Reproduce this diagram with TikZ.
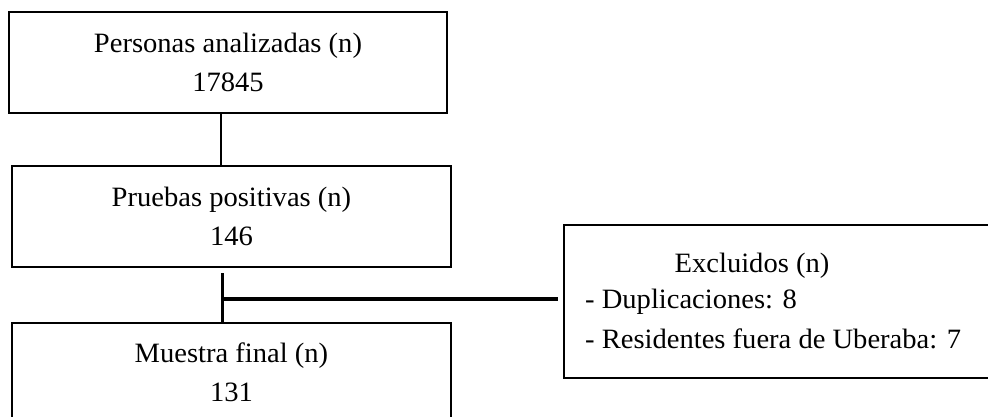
\documentclass[tikz,border=0pt]{standalone}
\usepackage{fontspec}
\setmainfont[FakeStretch=1.02]{Liberation Serif}
\begin{document}
\begin{tikzpicture}[x=1pt,y=-1pt,
  box/.style={draw=black,line width=2pt,rectangle,inner sep=0pt,align=center,
    font=\fontsize{28}{39}\selectfont},
  txt/.style={inner sep=0pt,font=\fontsize{28}{39}\selectfont},
  conn/.style={draw=black,line width=2.4pt}]
\useasboundingbox (0,0) rectangle (988,417);
\node[box,minimum width=438pt,minimum height=101pt] (b1) at (228,62.5)
  {Personas analizadas (n)\\17845};
\node[box,minimum width=439pt,minimum height=101pt] (b2) at (231.5,216.5)
  {Pruebas positivas (n)\\146};
\node[box,minimum width=439pt,minimum height=98pt] (b3) at (231.5,372)
  {Muestra final (n)\\131};
\node[box,minimum width=440pt,minimum height=153pt] (ex) at (784,301.5) {};
\node[txt,anchor=base] (exh) at (752,272) {Excluidos (n)};
\node[txt,anchor=base west] (ex1) at (585,308) {- Duplicaciones: 8};
\node[txt,anchor=base west] (ex2) at (585,348) {- Residentes fuera de Uberaba: 7};
\coordinate (c1) at (221,0);
\coordinate (c2) at (222.5,0);
\coordinate (s) at (222.5,273);
\coordinate (j) at (222.5,299);
\coordinate (e) at (558,299);
\draw[conn] (b1.south -| c1) -- (b2.north -| c1);
\draw[conn,line width=3pt] (s) -- (b3.north -| c2);
\draw[conn,line width=3.4pt] (j) -- (e);
\end{tikzpicture}
\end{document}
